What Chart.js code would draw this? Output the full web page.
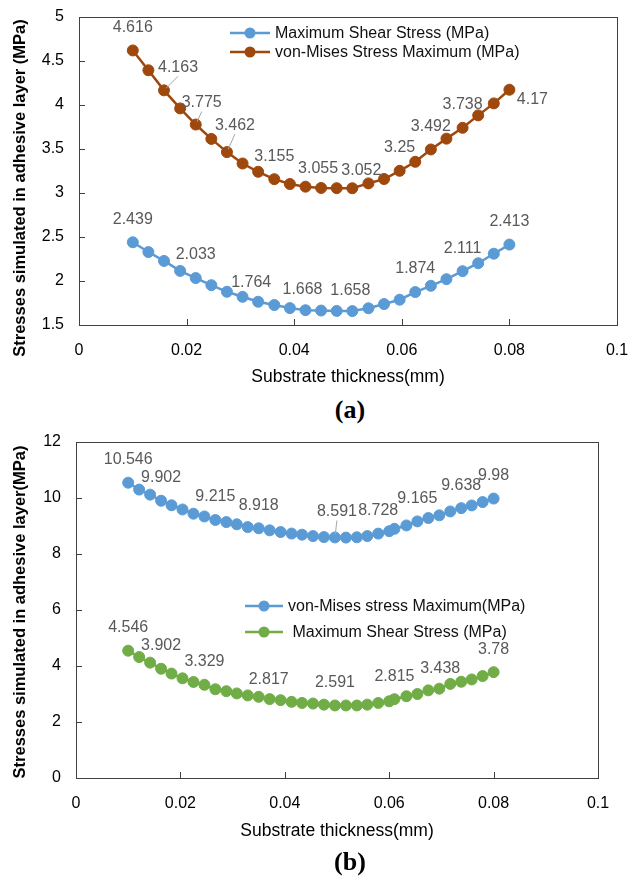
<!DOCTYPE html>
<html><head><meta charset="utf-8">
<script src="https://cdn.jsdelivr.net/npm/chart.js@4.4.1/dist/chart.umd.min.js"></script>
<style>
html,body{margin:0;padding:0;background:#fff;}
#wrap{position:relative;width:628px;height:878px;background:#fff;overflow:hidden;}
canvas{position:absolute;left:0;}
#c1{top:0;} #c2{top:425px;}
.cap{position:absolute;left:300px;width:100px;text-align:center;font-family:"Liberation Serif","Times New Roman",serif;font-weight:bold;font-size:26px;line-height:30px;color:#000;}
</style></head><body>
<div id="wrap">
<canvas id="c1" width="660" height="395"></canvas>
<div class="cap" style="top:395px;">(a)</div>
<canvas id="c2" width="660" height="425"></canvas>
<div class="cap" style="top:847px;">(b)</div>
</div>
<script>
// ---------- DATA ----------
const xTop = [0.01, 0.0129, 0.0158, 0.0188, 0.0217, 0.0246, 0.0275, 0.0304, 0.0333, 0.0363, 0.0392, 0.0421, 0.045, 0.0479, 0.0508, 0.0538, 0.0567, 0.0596, 0.0625, 0.0654, 0.0683, 0.0713, 0.0742, 0.0771, 0.08];
const shearTop = [2.439, 2.328, 2.227, 2.114, 2.033, 1.952, 1.877, 1.820, 1.764, 1.727, 1.692, 1.668, 1.664, 1.660, 1.658, 1.690, 1.738, 1.787, 1.874, 1.945, 2.020, 2.111, 2.201, 2.309, 2.413];
const misesTop = [4.616, 4.391, 4.163, 3.958, 3.775, 3.612, 3.462, 3.333, 3.239, 3.155, 3.100, 3.070, 3.055, 3.053, 3.052, 3.107, 3.157, 3.250, 3.352, 3.492, 3.615, 3.738, 3.879, 4.015, 4.170];
const shearTopLabelIdx = [0, 4, 8, 11, 14, 18, 21, 24];
const misesTopLabelIdx = [0, 2, 4, 6, 9, 12, 14, 17, 19, 21, 24];

const xBot = [0.01, 0.0121, 0.0142, 0.0163, 0.0183, 0.0204, 0.0225, 0.0246, 0.0267, 0.0288, 0.0308, 0.0329, 0.035, 0.0371, 0.0392, 0.0413, 0.0433, 0.0454, 0.0475, 0.0496, 0.0517, 0.0538, 0.0558, 0.0579, 0.06, 0.061, 0.0633, 0.0654, 0.0675, 0.0696, 0.0717, 0.0738, 0.0758, 0.0779, 0.08];
const misesBot = [10.546, 10.30, 10.12, 9.902, 9.74, 9.59, 9.44, 9.34, 9.215, 9.14, 9.06, 8.96, 8.918, 8.845, 8.785, 8.73, 8.69, 8.64, 8.605, 8.591, 8.586, 8.598, 8.640, 8.728, 8.815, 8.90, 9.02, 9.165, 9.285, 9.38, 9.52, 9.638, 9.735, 9.855, 9.98];
const shearBot = [4.546, 4.32, 4.12, 3.902, 3.73, 3.56, 3.43, 3.329, 3.17, 3.10, 3.02, 2.95, 2.90, 2.817, 2.78, 2.72, 2.68, 2.66, 2.62, 2.591, 2.59, 2.59, 2.62, 2.68, 2.74, 2.815, 2.92, 3.00, 3.13, 3.19, 3.36, 3.438, 3.52, 3.64, 3.78];
const misesBotLabelIdx = [0, 3, 8, 12, 19, 23, 27, 31, 34];
const shearBotLabelIdx = [0, 3, 7, 13, 19, 25, 31, 34];

const xTickLabels = ['0', '0.02', '0.04', '0.06', '0.08', '0.1'];
const yTickLabelsTop = ['1.5', '2', '2.5', '3', '3.5', '4', '4.5', '5'];
const yTickLabelsBot = ['0', '2', '4', '6', '8', '10', '12'];
const seriesNamesTop = ['Maximum Shear Stress (MPa)', 'von-Mises Stress Maximum (MPa)'];
const seriesNamesBot = ['von-Mises stress Maximum(MPa)', ' Maximum Shear Stress (MPa)'];
const xTitle = 'Substrate thickness(mm)';
const yTitleTop = 'Stresses simulated in adhesive layer (MPa)';
const yTitleBot = 'Stresses simulated in adhesive layer(MPa)';

// ---------- STYLE ----------
const FONT = '"Liberation Sans", Arial, sans-serif';
const BLUE = '#5B9BD5', ORANGE = '#9E480E', GREEN = '#70AD47';
const LABEL_GRAY = '#595959';

const panelPlugin = {
  id: 'panel',
  afterDatasetsDraw(chart, args, o) {
    const ctx = chart.ctx;
    ctx.save();
    ctx.font = '16px ' + FONT;
    ctx.fillStyle = LABEL_GRAY;
    ctx.textAlign = 'center';
    ctx.textBaseline = 'middle';
    o.labels.forEach((spec, di) => {
      const meta = chart.getDatasetMeta(di);
      const vals = chart.data.datasets[di].data;
      spec.idx.forEach(i => {
        const el = meta.data[i];
        const off = (spec.off && spec.off[i]) || [0, -23, false];
        const lx = el.x + off[0], ly = el.y + off[1];
        if (off[2]) {
          ctx.save();
          ctx.strokeStyle = '#A6A6A6'; ctx.lineWidth = 1;
          ctx.beginPath();
          const sx = lx, sy = ly + 9;
          const ang = Math.atan2(el.y - sy, el.x - sx);
          ctx.moveTo(sx, sy);
          ctx.lineTo(el.x - Math.cos(ang) * 3, el.y - Math.sin(ang) * 3);
          ctx.stroke();
          ctx.restore();
        }
        ctx.fillText(String(vals[i].y), lx, ly);
      });
    });
    ctx.restore();
  },
  afterDraw(chart, args, o) {
    const ctx = chart.ctx, a = chart.chartArea;
    const xs = chart.scales.x, ys = chart.scales.y;
    ctx.save();
    // plot border
    ctx.strokeStyle = '#404040'; ctx.lineWidth = 1;
    ctx.strokeRect(Math.round(a.left) + 0.5, Math.round(a.top) + 0.5, Math.round(a.right - a.left), Math.round(a.bottom - a.top));
    // inside tick marks
    ctx.beginPath();
    xs.ticks.forEach((t, i) => {
      if (i === 0 || i === xs.ticks.length - 1) return;
      const px = Math.round(xs.getPixelForValue(t.value)) + 0.5;
      ctx.moveTo(px, a.bottom); ctx.lineTo(px, a.bottom - 6);
    });
    ys.ticks.forEach((t, i) => {
      if (i === 0 || i === ys.ticks.length - 1) return;
      const py = Math.round(ys.getPixelForValue(t.value)) + 0.5;
      ctx.moveTo(a.left, py); ctx.lineTo(a.left + 6, py);
    });
    ctx.stroke();
    // axis titles
    ctx.fillStyle = '#000';
    ctx.textAlign = 'center'; ctx.textBaseline = 'middle';
    ctx.font = '17.5px ' + FONT;
    ctx.fillText(o.xTitle, (a.left + a.right) / 2, o.xTitleY);
    ctx.save();
    ctx.translate(o.yTitleX, o.yTitleY);
    ctx.rotate(-Math.PI / 2);
    ctx.font = 'bold 16.5px ' + FONT;
    ctx.fillText(o.yTitle, 0, 0);
    ctx.restore();
    // legend
    const lg = o.legend;
    ctx.font = '16px ' + FONT;
    ctx.textAlign = 'left';
    chart.data.datasets.forEach((ds, di) => {
      const y = lg.y + di * lg.gap;
      ctx.strokeStyle = ds.borderColor; ctx.lineWidth = 2.5;
      ctx.beginPath(); ctx.moveTo(lg.x0, y); ctx.lineTo(lg.x1, y); ctx.stroke();
      ctx.fillStyle = ds.backgroundColor;
      ctx.beginPath(); ctx.arc((lg.x0 + lg.x1) / 2, y, 5.5, 0, Math.PI * 2); ctx.fill();
      ctx.fillStyle = '#111';
      ctx.fillText(ds.label, lg.tx, y + 1);
    });
    ctx.restore();
  }
};

function makeChart(id, cfg) {
  const cv = document.getElementById(id);
  const H = cv.height, W = cv.width;
  return new Chart(cv, {
    type: 'scatter',
    data: {
      datasets: cfg.series.map(s => ({
        label: s.name,
        data: cfg.x.map((xv, i) => ({ x: xv, y: s.values[i] })),
        showLine: true,
        borderColor: s.color,
        backgroundColor: s.color,
        borderWidth: 2.5,
        pointRadius: 5.5,
        pointHoverRadius: 5.5,
        pointBorderWidth: 1,
        tension: 0
      }))
    },
    options: {
      responsive: false,
      devicePixelRatio: 1,
      animation: false,
      events: [],
      layout: { padding: { left: 0, top: cfg.area.top, right: W - cfg.area.right, bottom: 0 } },
      plugins: {
        legend: { display: false },
        tooltip: { enabled: false },
        panel: {
          labels: cfg.labels,
          xTitle: xTitle, xTitleY: cfg.xTitleY,
          yTitle: cfg.yTitle, yTitleX: 20, yTitleY: cfg.yTitleY,
          legend: cfg.legend
        }
      },
      scales: {
        x: {
          type: 'linear', min: 0, max: 0.1,
          grid: { display: false },
          border: { display: false },
          ticks: {
            stepSize: 0.02, padding: 8, color: '#000', maxRotation: 0, autoSkip: false,
            font: { family: FONT, size: 16 },
            callback: (v, i) => xTickLabels[i]
          },
          afterFit: s => { s.height = H - cfg.area.bottom; }
        },
        y: {
          min: cfg.yMin, max: cfg.yMax,
          grid: { display: false },
          border: { display: false },
          ticks: {
            stepSize: cfg.yStep, padding: 7, color: '#000',
            font: { family: FONT, size: 16 },
            callback: (v, i) => cfg.yLabels[i]
          },
          afterFit: s => { s.width = cfg.area.left; }
        }
      }
    },
    plugins: [panelPlugin]
  });
}

makeChart('c1', {
  x: xTop,
  series: [
    { name: seriesNamesTop[0], values: shearTop, color: BLUE },
    { name: seriesNamesTop[1], values: misesTop, color: ORANGE }
  ],
  labels: [
    { idx: shearTopLabelIdx, off: { 8: [-7, -19], 11: [-3, -21], 14: [-2, -20] } },
    { idx: misesTopLabelIdx, off: { 2: [14, -23, true], 4: [6, -22, true], 6: [8, -27, true], 12: [-3, -19], 14: [9, -18], 24: [23, 10] } }
  ],
  area: { left: 79, right: 617, top: 15, bottom: 325 },
  yMin: 1.5, yMax: 5, yStep: 0.5, yLabels: yTickLabelsTop,
  xTitleY: 377, yTitle: yTitleTop, yTitleY: 188,
  legend: { x0: 230, x1: 270, tx: 275, y: 33, gap: 19 }
});

makeChart('c2', {
  x: xBot,
  series: [
    { name: seriesNamesBot[0], values: misesBot, color: BLUE },
    { name: seriesNamesBot[1], values: shearBot, color: GREEN }
  ],
  labels: [
    { idx: misesBotLabelIdx, off: { 19: [2, -26, true] } },
    { idx: shearBotLabelIdx, off: { 13: [-1, -20], 31: [-21, -13] } }
  ],
  area: { left: 76, right: 598, top: 17, bottom: 353 },
  yMin: 0, yMax: 12, yStep: 2, yLabels: yTickLabelsBot,
  xTitleY: 406, yTitle: yTitleBot, yTitleY: 187,
  legend: { x0: 245, x1: 283, tx: 288, y: 181, gap: 26 }
});
</script>
</body></html>
